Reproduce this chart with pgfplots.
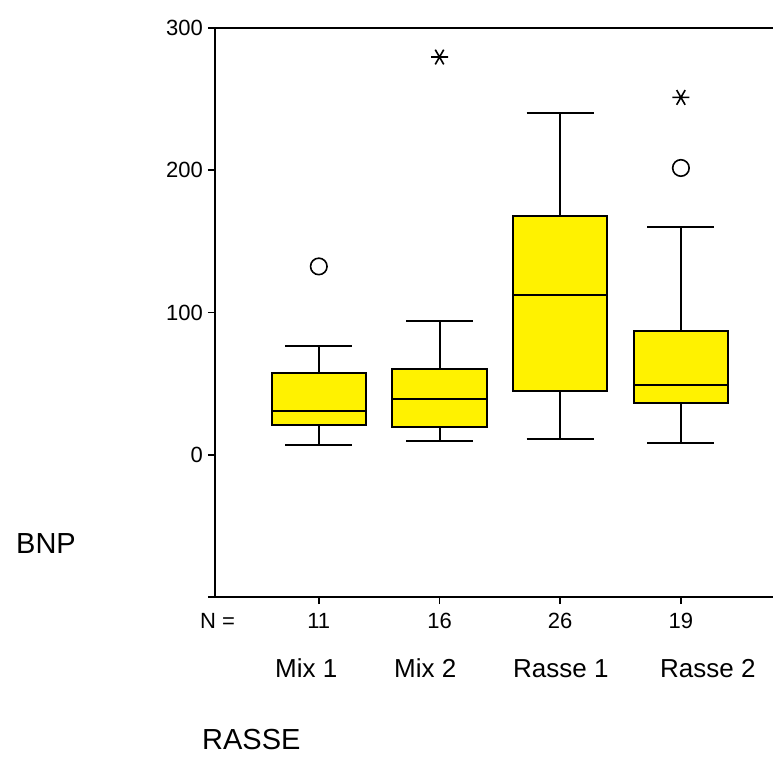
\documentclass[border=0pt]{standalone}
\usepackage{pgfplots}
\pgfplotsset{compat=1.18}
\usepackage{fontspec}
\setmainfont{Liberation Sans}

\newcommand\tickfont{\fontsize{22}{22}\selectfont}
\newcommand\catfont{\fontsize{26}{26}\selectfont}
\newcommand\titlefont{\fontsize{29}{29}\selectfont}

% SPSS-style extreme-value star: one horizontal stroke and two diagonals
\pgfdeclareplotmark{xstar}{%
  \pgfpathmoveto{\pgfqpoint{-\pgfplotmarksize}{0pt}}%
  \pgfpathlineto{\pgfqpoint{\pgfplotmarksize}{0pt}}%
  \pgfpathmoveto{\pgfqpointpolar{60}{\pgfplotmarksize}}%
  \pgfpathlineto{\pgfqpointpolar{240}{\pgfplotmarksize}}%
  \pgfpathmoveto{\pgfqpointpolar{120}{\pgfplotmarksize}}%
  \pgfpathlineto{\pgfqpointpolar{300}{\pgfplotmarksize}}%
  \pgfusepathqstroke}

\begin{document}
\begin{tikzpicture}
\begin{axis}[
  name=main,
  at={(0,0)}, anchor=south west,
  scale only axis, width=558pt, height=569pt,
  xmin=0.14, xmax=4.763, ymin=-100, ymax=300,
  clip=false,
  axis lines=left,
  axis line style={-, line width=2pt},
  tick align=outside,
  major tick length=7pt,
  tick style={line width=1.6pt, black},
  ytick={-100,0,100,200,300},
  yticklabels={{},\textnormal{0},\textnormal{100},\textnormal{200},\textnormal{300}},
  xtick={1,2,3,4},
  xticklabels={\textnormal{11},\textnormal{16},\textnormal{26},\textnormal{19}},
  yticklabel style={font=\tickfont, anchor=east, inner sep=0pt, xshift=-5pt},
  xticklabel style={font=\tickfont, anchor=north, inner sep=0pt, yshift=-9pt},
  boxfill/.style={fill=yellow, draw=black, line width=2pt},
  boxline/.style={black, line width=2pt, unbounded coords=jump},
]
% Mix 1: whiskers 6.8 / 76.8, quartiles 20.9 / 57.3, median 30.5
\addplot[boxfill] coordinates {(0.6105,20.9) (1.3895,20.9) (1.3895,57.3) (0.6105,57.3)} -- cycle;
\addplot[boxline] coordinates {
  (0.7225,6.8) (1.2775,6.8) (nan,nan) (1,6.8) (1,20.9) (nan,nan)
  (0.6105,30.5) (1.3895,30.5) (nan,nan)
  (1,57.3) (1,76.8) (nan,nan) (0.7225,76.8) (1.2775,76.8)};
% Mix 2: whiskers 9.4 / 93.9, quartiles 19.7 / 60.3, median 38.9
\addplot[boxfill] coordinates {(1.6105,19.7) (2.3895,19.7) (2.3895,60.3) (1.6105,60.3)} -- cycle;
\addplot[boxline] coordinates {
  (1.7225,9.4) (2.2775,9.4) (nan,nan) (2,9.4) (2,19.7) (nan,nan)
  (1.6105,38.9) (2.3895,38.9) (nan,nan)
  (2,60.3) (2,93.9) (nan,nan) (1.7225,93.9) (2.2775,93.9)};
% Rasse 1: whiskers 10.8 / 239.9, quartiles 44.8 / 168.1, median 112
\addplot[boxfill] coordinates {(2.6105,44.8) (3.3895,44.8) (3.3895,168.1) (2.6105,168.1)} -- cycle;
\addplot[boxline] coordinates {
  (2.7225,10.8) (3.2775,10.8) (nan,nan) (3,10.8) (3,44.8) (nan,nan)
  (2.6105,112) (3.3895,112) (nan,nan)
  (3,168.1) (3,239.9) (nan,nan) (2.7225,239.9) (3.2775,239.9)};
% Rasse 2: whiskers 8.0 / 159.9, quartiles 36.2 / 87.1, median 48.8
\addplot[boxfill] coordinates {(3.6105,36.2) (4.3895,36.2) (4.3895,87.1) (3.6105,87.1)} -- cycle;
\addplot[boxline] coordinates {
  (3.7225,8.0) (4.2775,8.0) (nan,nan) (4,8.0) (4,36.2) (nan,nan)
  (3.6105,48.8) (4.3895,48.8) (nan,nan)
  (4,87.1) (4,159.9) (nan,nan) (3.7225,159.9) (4.2775,159.9)};

% outliers (circles) and extreme values (stars)
\addplot[only marks, mark=o, mark size=8.25pt, line width=1.6pt, black]
  coordinates {(1,132.4) (4,201.6)};
\addplot[only marks, mark=xstar, mark size=8.5pt, line width=1.6pt, black]
  coordinates {(2,279.6) (4,251.2)};
\end{axis}

% top frame line
\draw[line width=2pt] (main.north west) -- (main.north east);

% case counts and category names
\node[font=\tickfont, anchor=west, inner sep=0pt, xshift=-15pt, yshift=-24pt]
  at (main.south west) {N =};
\node[font=\catfont, anchor=base west, inner sep=0pt, xshift=60pt, yshift=-80pt]
  at (main.south west) {Mix 1};
\node[font=\catfont, anchor=base west, inner sep=0pt, xshift=179pt, yshift=-80pt]
  at (main.south west) {Mix 2};
\node[font=\catfont, anchor=base west, inner sep=0pt, xshift=298pt, yshift=-80pt]
  at (main.south west) {Rasse 1};
\node[font=\catfont, anchor=base west, inner sep=0pt, xshift=445pt, yshift=-80pt]
  at (main.south west) {Rasse 2};

% axis titles
\node[font=\titlefont, anchor=center, inner sep=0pt, xshift=-169pt, yshift=53.5pt]
  at (main.south west) {BNP};
\node[font=\titlefont, anchor=base west, inner sep=0pt, xshift=-13pt, yshift=-152pt]
  at (main.south west) {RASSE};

\pgfresetboundingbox
\useasboundingbox (-215pt,-159pt) rectangle (558pt,597pt);
\end{tikzpicture}
\end{document}
